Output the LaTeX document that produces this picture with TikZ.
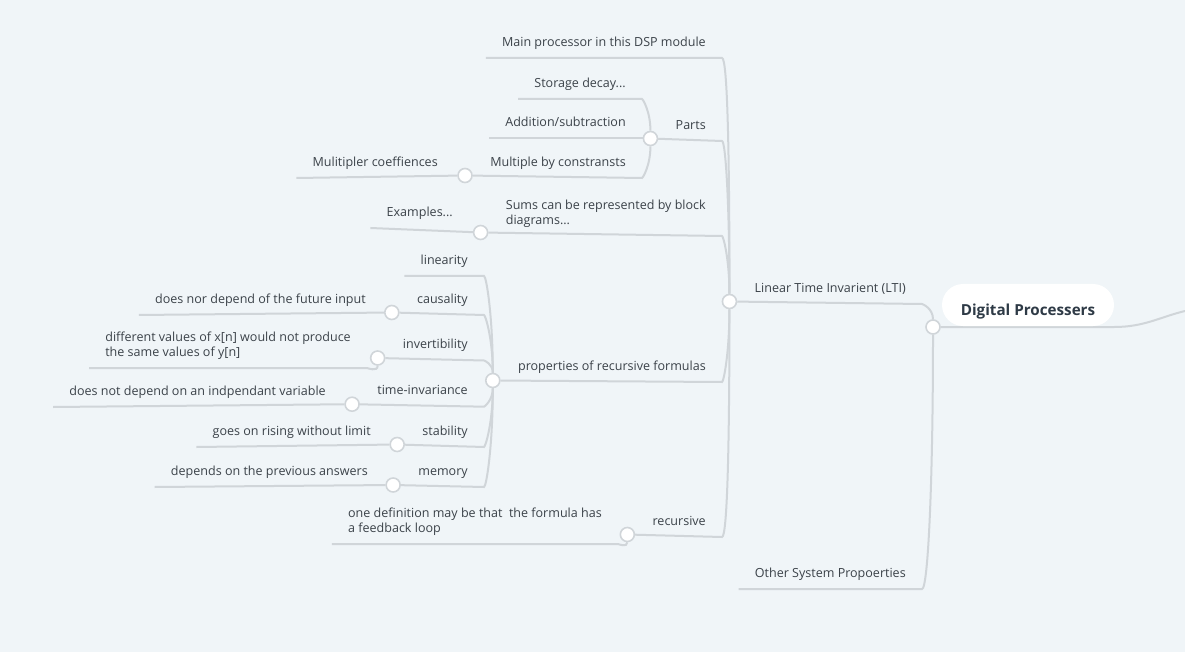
\documentclass[tikz,border=0pt]{standalone}
\usepackage{fontspec}
\setmainfont{Open Sans}
\usetikzlibrary{backgrounds}
\definecolor{paper}{HTML}{F0F5F8}
\definecolor{linegray}{HTML}{D0D5D9}
\definecolor{inkgray}{HTML}{3B4249}
\definecolor{rootink}{HTML}{2E3A46}
\tikzstyle{topic} = [anchor=south east, inner xsep=12pt, inner ysep=8.7pt, text depth=0pt, align=left, text=inkgray, font=\fontsize{9.4}{11.25}\selectfont]
\tikzstyle{rootbox} = [fill=white, rounded corners=15.75pt, minimum width=129pt, minimum height=31.5pt, inner sep=0pt, text height=15.5pt, text depth=0pt, text=rootink, font=\bfseries\fontsize{11.4}{13}\selectfont]
\tikzstyle{joint} = [circle, draw=linegray, fill=white, line width=1.2pt, inner sep=0pt, minimum size=10.5pt]
\tikzstyle{branch} = [draw=linegray, line width=1.5pt]
\tikzstyle{fall} = [out=0, in=90, out looseness=0.06, in looseness=1.5]
\tikzstyle{rise} = [out=0, in=-90, out looseness=0.06, in looseness=1.5]

\begin{document}
\begin{tikzpicture}[x=0.75pt, y=-0.75pt]
\useasboundingbox (0,0) rectangle (1185,652);

% Nodes
\node (root) [rootbox] at (1028,305) {Digital Processers};
\node (rootJ) [joint] at (933,327) {};
\coordinate (offpage) at (1185,311);
\node (lti) [topic] at (922,304) {Linear Time Invarient (LTI)};
\node (ltiJ) [joint] at ([shift={(-9,-2.5)}]lti.south west) {};
\node (other) [topic] at (922,589) {Other System Propoerties};

\node (main) [topic] at (722,58) {Main processor in this DSP module};
\node (parts) [topic] at (722,141) {Parts};
\node (partsJ) [joint] at ([shift={(-9,-2.5)}]parts.south west) {};
\node (storage) [topic] at (642,99) {Storage decay...};
\node (addsub) [topic] at (642,138.5) {Addition/subtraction};
\node (mult) [topic] at (642,178) {Multiple by constransts};
\node (multJ) [joint] at ([shift={(-9,-2.5)}]mult.south west) {};
\node (coeff) [topic] at (454,178) {Mulitipler coeffiences};
\node (sums) [topic] at (722,236) {Sums can be represented by block\\diagrams...};
\node (sumsJ) [joint] at ([shift={(-9,-3.5)}]sums.south west) {};
\node (examples) [topic] at (469,228) {Examples...};

\node (props) [topic] at (722,382) {properties of recursive formulas};
\node (propsJ) [joint] at ([shift={(-9,-1.5)}]props.south west) {};
\node (lin) [topic] at (484,276) {linearity};
\node (caus) [topic] at (484,315) {causality};
\node (causJ) [joint] at ([shift={(-9,-2.5)}]caus.south west) {};
\node (future) [topic] at (382,315) {does nor depend of the future input};
\node (inv) [topic] at (484,360.5) {invertibility};
\node (invJ) [joint] at ([shift={(-9,-2.5)}]inv.south west) {};
\node (diffvals) [topic] at (367,368) {different values of x[n] would not produce\\the same values of y[n]};
\node (ti) [topic] at (484,406.7) {time-invariance};
\node (tiJ) [joint] at ([shift={(-9,-2.5)}]ti.south west) {};
\node (indep) [topic] at (342,407) {does not depend on an indpendant variable};
\node (stab) [topic] at (484,447) {stability};
\node (stabJ) [joint] at ([shift={(-9,-2.5)}]stab.south west) {};
\node (rising) [topic] at (387,447) {goes on rising without limit};
\node (mem) [topic] at (484,487) {memory};
\node (memJ) [joint] at ([shift={(-9,-2)}]mem.south west) {};
\node (prevans) [topic] at (384,487) {depends on the previous answers};

\node (recur) [topic] at (722,537) {recursive};
\node (recurJ) [joint] at ([shift={(-9,-2.5)}]recur.south west) {};
\node (feedback) [topic] at (618,544) {one definition may be that~ the formula has\\a feedback loop};

% Branches
\begin{pgfonlayer}{background}
\fill [paper] (0,0) rectangle (1185,652);
\draw [branch] (rootJ) -- (rootJ -| root.south east) .. controls +(30,0) and +(-25,6) .. (offpage);
\draw [branch] (ltiJ) -- (lti.south east) to[fall] (rootJ);
\draw [branch] (other.south west) -- (other.south east) to[rise] (rootJ);
\draw [branch] (main.south west) -- (main.south east) to[fall] (ltiJ);
\draw [branch] (partsJ) -- (parts.south east) to[fall] (ltiJ);
\draw [branch] (storage.south west) -- (storage.south east) to[fall] (partsJ);
\draw [branch] (addsub.south west) -- (partsJ);
\draw [branch] (multJ) -- (mult.south east) to[rise] (partsJ);
\draw [branch] (coeff.south west) -- (multJ);
\draw [branch] (sumsJ) -- (sums.south east) to[fall] (ltiJ);
\draw [branch] (examples.south west) -- (sumsJ);
\draw [branch] (propsJ) -- (props.south east) to[rise] (ltiJ);
\draw [branch] (lin.south west) -- (lin.south east) to[fall] (propsJ);
\draw [branch] (causJ) -- (caus.south east) to[fall] (propsJ);
\draw [branch] (future.south west) -- (causJ);
\draw [branch] (invJ) -- (inv.south east) to[fall] (propsJ);
\draw [branch] (diffvals.south west) -- (diffvals.south east) to[rise] (invJ);
\draw [branch] (tiJ) -- (ti.south east) to[rise] (propsJ);
\draw [branch] (indep.south west) -- (tiJ);
\draw [branch] (stabJ) -- (stab.south east) to[rise] (propsJ);
\draw [branch] (rising.south west) -- (stabJ);
\draw [branch] (memJ) -- (mem.south east) to[rise] (propsJ);
\draw [branch] (prevans.south west) -- (memJ);
\draw [branch] (recurJ) -- (recur.south east) to[rise] (ltiJ);
\draw [branch] (feedback.south west) -- (feedback.south east) to[rise] (recurJ);
\end{pgfonlayer}

\end{tikzpicture}
\end{document}
